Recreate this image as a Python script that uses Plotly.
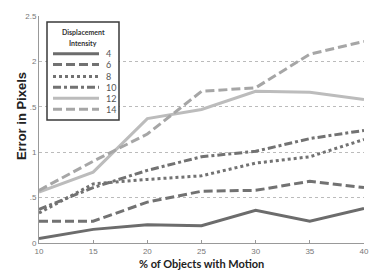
import plotly.graph_objects as go

x_vals = [10, 15, 20, 25, 30, 35, 40]
series_names = ["4", "6", "8", "10", "12", "14"]
s4 = [0.05, 0.15, 0.20, 0.19, 0.36, 0.24, 0.38]
s6 = [0.24, 0.24, 0.45, 0.57, 0.58, 0.68, 0.61]
s8 = [0.33, 0.65, 0.70, 0.74, 0.88, 0.95, 1.14]
s10 = [0.37, 0.61, 0.80, 0.95, 1.01, 1.15, 1.24]
s12 = [0.56, 0.78, 1.37, 1.47, 1.67, 1.66, 1.58]
s14 = [0.58, 0.90, 1.20, 1.67, 1.71, 2.08, 2.22]
y_tickvals = [0, 0.5, 1, 1.5, 2, 2.5]
y_ticktext = ["0", ".5", "1", ".5", "2", "2.5"]
x_tickvals = [10, 15, 20, 25, 30, 35, 40]

series = [s4, s6, s8, s10, s12, s14]
colors = ["#6c6c6c", "#727272", "#727272", "#727272", "#bcbcbc", "#a6a6a6"]
dashes = ["solid", "9px,4px", "3px,3px", "8px,3px,3px,3px", "solid", "9px,4px"]

W, H = 386, 275
L, R, T, B = 39, 22, 14, 32
pw, ph = W - L - R, H - T - B

def px(p):
    return (p - L) / pw

def py(p):
    return (H - B - p) / ph

fig = go.Figure()
for name, ys, c, d in zip(series_names, series, colors, dashes):
    fig.add_trace(go.Scatter(x=x_vals, y=ys, mode="lines", name=name,
                             line=dict(color=c, width=3, dash=d),
                             showlegend=False, hoverinfo="skip"))

shapes = []
annotations = []
# legend box
shapes.append(dict(type="rect", xref="paper", yref="paper",
                   x0=px(47), x1=px(119), y0=py(119), y1=py(20),
                   line=dict(color="#3a3a3a", width=1.5), fillcolor="white", layer="above"))
annotations.append(dict(xref="paper", yref="paper", x=px(83), y=py(30), text="<b>Displacement</b>",
                        showarrow=False, font=dict(family="Lato", size=7, color="#333"),
                        xanchor="center", yanchor="middle"))
annotations.append(dict(xref="paper", yref="paper", x=px(83), y=py(41), text="<b>Intensity</b>",
                        showarrow=False, font=dict(family="Lato", size=7, color="#333"),
                        xanchor="center", yanchor="middle"))
row_y = [52, 63, 75, 86, 97, 108]
for name, c, d, ry in zip(series_names, colors, dashes, row_y):
    shapes.append(dict(type="line", xref="paper", yref="paper",
                       x0=px(53), x1=px(99), y0=py(ry), y1=py(ry),
                       line=dict(color=c, width=3, dash=d), layer="above"))
    annotations.append(dict(xref="paper", yref="paper", x=px(104), y=py(ry), text=name,
                            showarrow=False, font=dict(family="Lato", size=9, color="#555"),
                            xanchor="left", yanchor="middle"))

# axis titles
annotations.append(dict(xref="paper", yref="paper", x=px(202), y=py(264),
                        text="<b>% of Objects with Motion</b>", showarrow=False,
                        font=dict(family="Lato", size=11, color="#222"),
                        xanchor="center", yanchor="middle"))
annotations.append(dict(xref="paper", yref="paper", x=px(21), y=py(115),
                        text="<b>Error in Pixels</b>", showarrow=False, textangle=-90,
                        font=dict(family="Liberation Sans", size=13, color="#222"),
                        xanchor="center", yanchor="middle"))

fig.update_layout(
    width=W, height=H,
    margin=dict(l=L, r=R, t=T, b=B),
    paper_bgcolor="white", plot_bgcolor="white",
    shapes=shapes, annotations=annotations,
    xaxis=dict(range=[10, 40], tickvals=x_tickvals, showgrid=False, zeroline=False,
               showline=True, linecolor="#999", linewidth=1,
               ticks="inside", ticklen=3, tickcolor="#999",
               tickfont=dict(family="Liberation Sans", size=8, color="#777")),
    yaxis=dict(range=[0, 2.5], tickvals=y_tickvals, ticktext=y_ticktext,
               showgrid=True, gridcolor="#bbb", griddash="dot", gridwidth=1,
               zeroline=False, showline=True, linecolor="#999", linewidth=1,
               ticks="", tickfont=dict(family="Liberation Sans", size=8, color="#777")),
    showlegend=False,
    hovermode=False,
)

fig.write_html("out.html", config={"displayModeBar": False, "staticPlot": True},
               post_script="document.body.style.margin='0';document.body.style.overflow='hidden';")
